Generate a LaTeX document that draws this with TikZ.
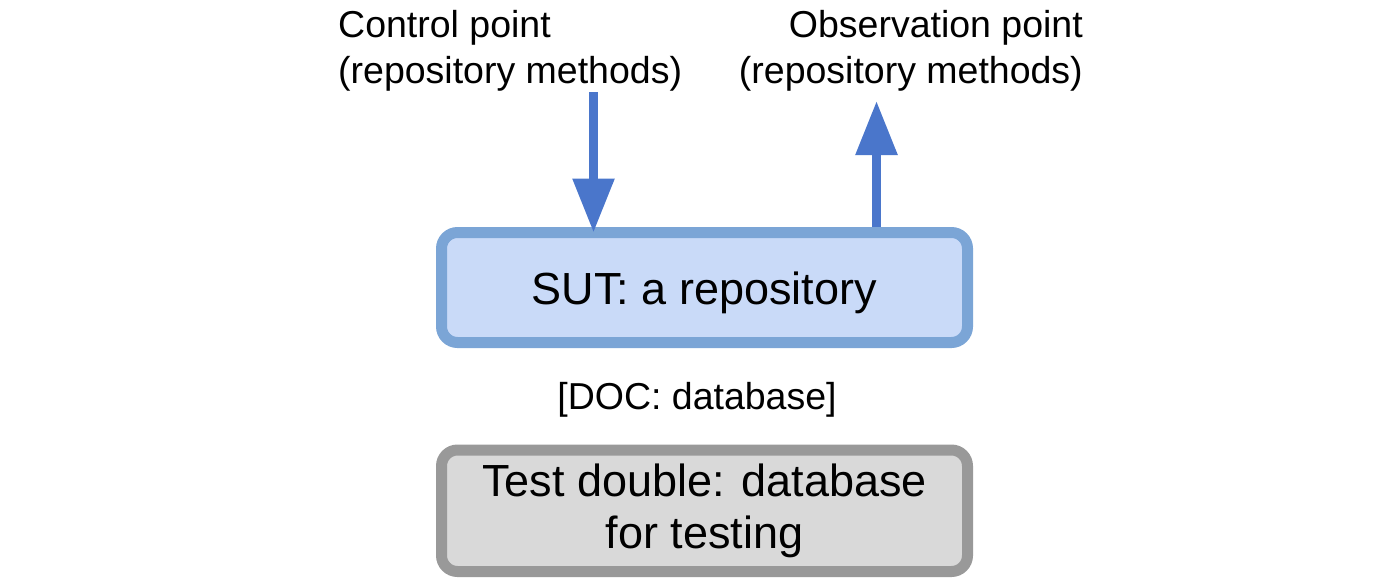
\documentclass[tikz,border=0pt]{standalone}
\usepackage{fontspec}
\setmainfont{Liberation Sans}
\usetikzlibrary{arrows.meta}
\definecolor{arrowblue}{HTML}{4A76CB}
\definecolor{sutfill}{HTML}{C9DAF8}
\definecolor{sutdraw}{HTML}{7BA5D6}
\definecolor{tdfill}{HTML}{D9D9D9}
\definecolor{tddraw}{HTML}{999999}
\tikzset{
  boxstyle/.style={rounded corners=16pt, line width=11pt, inner sep=0pt,
    font=\fontsize{45}{52}\selectfont, align=center},
  labelstyle/.style={inner sep=0pt, font=\fontsize{37.5}{46}\selectfont},
  flow/.style={draw=arrowblue, line width=9pt,
    -{Triangle[length=54pt,width=40pt,fill=arrowblue]}}
}
\begin{document}
\begin{tikzpicture}[x=1pt,y=-1pt]
\useasboundingbox (0,0) rectangle (1400,587);
\node[boxstyle, draw=sutdraw, fill=sutfill, minimum width=526pt, minimum height=110pt,
  text height=34pt, text depth=0pt] (sut) at (704.5,287.5) {SUT: a repository};
\node[boxstyle, draw=tddraw, fill=tdfill, minimum width=526pt, minimum height=121.5pt]
  (td) at (704.5,510.75) {Test double: database\\for testing};
\node[labelstyle, anchor=base] (doc) at (697,409) {[DOC: database]};
\node[labelstyle, anchor=base west, align=left] (ctrl) at (338,83) {Control point\\(repository methods)};
\node[labelstyle, anchor=base east, align=right] (obs) at (1083,83) {Observation point\\(repository methods)};
\coordinate (cstart) at (593.5,92);
\coordinate (oend) at (876.5,101);
\draw[flow, shorten >=-5.5pt] (cstart) -- (cstart |- sut.north);
\draw[flow] (oend |- sut.north) -- (oend);
\end{tikzpicture}
\end{document}
